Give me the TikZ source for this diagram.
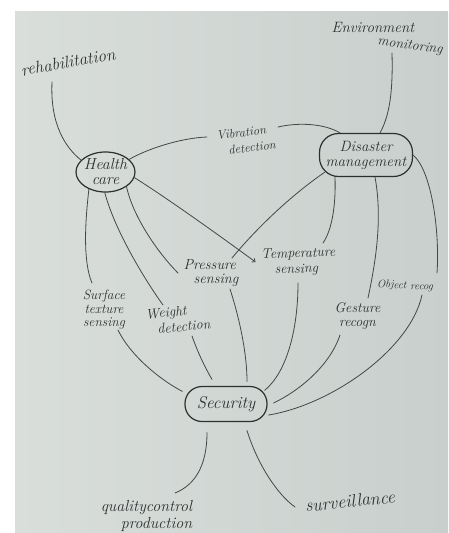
\documentclass[tikz,border=0pt]{standalone}
\usepackage{fontspec}
\usetikzlibrary{arrows.meta,shapes.geometric}
\definecolor{paper}{HTML}{D9DEDB}
\definecolor{paperdark}{HTML}{C9CFCC}
\definecolor{pencil}{HTML}{434746}
\definecolor{ink}{HTML}{2C302F}
\newcommand\hsz[2]{\fontsize{#1}{#2}\selectfont}
\begin{document}
\begin{tikzpicture}[x=1pt,y=-1pt,
  hand/.style={text=ink, align=center, inner sep=1pt},
  stroke/.style={draw=pencil, line width=0.8pt, line cap=round},
  bubble/.style={draw=ink, line width=1.2pt},
]
\useasboundingbox (0,0) rectangle (448,533);
% sheet of paper on a white ground
\fill[white] (0,0) rectangle (448,533);
\shade[left color=paper, right color=paperdark] (15,11) rectangle (448,533);

% main topics
\node[bubble, ellipse, minimum width=59pt, minimum height=40pt, inner sep=0pt] (hc) at (105.5,172) {};
\node[hand, font=\itshape\hsz{16}{15}] (hctext) at (hc) {Health\\care};
\node[bubble, rectangle, rounded corners=19pt, minimum width=93pt, minimum height=43pt,
      hand, font=\itshape\hsz{15}{15}] (dis) at (366,155) {Disaster\\management};
\node[bubble, rectangle, rounded corners=17pt, minimum width=82pt, minimum height=35pt,
      hand, font=\itshape\hsz{17}{17}] (sec) at (226,404) {Security};

% applications and sensing tasks
\node[hand, rotate=10, font=\itshape\hsz{17}{17}] (rehab) at (68,62) {rehabilitation};
\node[hand, font=\itshape\hsz{15}{15}] (env1) at (373,27) {Environment};
\node[hand, rotate=-8, font=\itshape\hsz{14}{14}] (env2) at (410,46) {monitoring};
\node[hand, rotate=7, align=left, font=\itshape\hsz{12.5}{16}] (vib) at (246,140) {Vibration\\\hspace*{10pt}detection};
\node[hand, font=\itshape\hsz{13.5}{13.5}] (surf) at (104,310) {Surface\\texture\\sensing};
\node[hand, rotate=6, align=left, font=\itshape\hsz{14}{16}] (wgt) at (178,319) {Weight\\\hspace*{10pt}detection};
\node[hand, align=left, font=\itshape\hsz{14.5}{14.5}] (prs) at (211,273) {Pressure\\\hspace*{10pt}sensing};
\node[hand, rotate=2, align=left, font=\itshape\hsz{14}{15.5}] (tmp) at (298.5,262) {Temperature\\\hspace*{13pt}sensing};
\node[hand, rotate=-3, font=\itshape\hsz{11}{11}] (obj) at (405,286) {Object recog};
\node[hand, font=\itshape\hsz{14}{14}] (gst) at (357.5,316) {Gesture\\recogn};
\node[hand, align=right, font=\itshape\hsz{16}{17}] (qcp) at (146.5,516) {qualitycontrol\\production};
\node[hand, rotate=6, font=\itshape\hsz{18}{18}] (srv) at (350,501) {surveillance};

% Health care links
\draw[stroke] ([shift={(-16,20)}]rehab.center) .. controls +(-2,43) and +(-15,-12) .. (hc.154);
\draw[stroke] (hc.28) .. controls +(17,-10) and +(-27,1) .. ([shift={(-39,-3)}]vib.center);
\draw[stroke] ([shift={(32,-13)}]vib.center) .. controls +(22,-5) and +(-15,-9) .. ([shift={(-26,0)}]dis.north);
\draw[stroke] (hc.226) .. controls +(-4,34) and +(-9,-21) .. ([shift={(-12,-27)}]surf.center);
\draw[stroke] (hc.268) .. controls +(10,38) and +(-18,-25) .. ([shift={(-15,-14)}]wgt.center);
\draw[stroke] (hc.325) .. controls +(7,32) and +(-18,-18) .. ([shift={(-33,0)}]prs.center);
\draw[stroke, -{Straight Barb[length=2.5pt,width=4.5pt]}] (hc.349) .. controls +(35,22) and +(-30,-22) .. ([shift={(-43,0)}]tmp.center);

% Disaster management links
\draw[stroke] ([shift={(-18,7)}]env2.center) .. controls +(1,37) and +(10,-18) .. ([shift={(14,0)}]dis.north);
\draw[stroke] ([shift={(6,-5)}]dis.south west) .. controls +(-35,24) and +(23,-28) .. ([shift={(21,-15)}]prs.center);
\draw[stroke] ([shift={(-31,0)}]dis.south) .. controls +(1,28) and +(9,-13) .. ([shift={(24.5,-19)}]tmp.center);
\draw[stroke] ([shift={(9,0)}]dis.south) .. controls +(8,43) and +(7,-33) .. ([shift={(10.5,-18)}]gst.center);
\draw[stroke] (dis.east) .. controls +(18,15) and +(3,-43) .. ([shift={(32,-13)}]obj.center);

% Security links
\draw[stroke] ([shift={(14,20)}]surf.center) .. controls +(12,25) and +(-23,-12) .. ([shift={(-2,5.5)}]sec.north west);
\draw[stroke] ([shift={(14,17)}]wgt.center) .. controls +(6,17) and +(-7,-12) .. ([shift={(-14,-6.5)}]sec.north);
\draw[stroke] ([shift={(19,16)}]prs.center) .. controls +(10,31) and +(0,-27) .. ([shift={(21,-4.5)}]sec.north);
\draw[stroke] ([shift={(-0.5,21)}]tmp.center) .. controls +(0,47) and +(22,-18) .. ([shift={(-3,4.5)}]sec.north east);
\draw[stroke] ([shift={(-17.5,19)}]gst.center) .. controls +(-10,30) and +(27,-13) .. ([shift={(6,-1)}]sec.east);
\draw[stroke] ([shift={(17,9)}]obj.center) .. controls +(-12,55) and +(62,-10) .. ([shift={(1,11)}]sec.east);
\draw[stroke] ([shift={(-19,10.5)}]sec.south) .. controls +(0,33) and +(20,-8) .. ([shift={(28.5,-23)}]qcp.center);
\draw[stroke] ([shift={(21,8.5)}]sec.south) .. controls +(11,35) and +(-17,-12) .. ([shift={(-55,6)}]srv.center);
\end{tikzpicture}
\end{document}
